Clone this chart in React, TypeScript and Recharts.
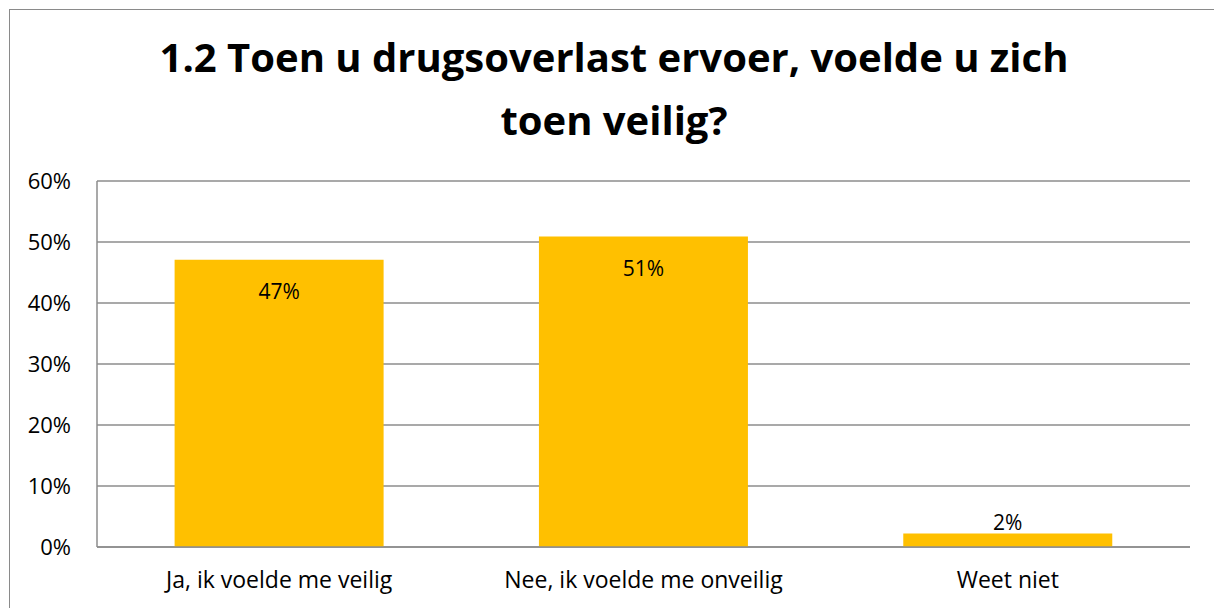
import React from 'react';
import { BarChart, Bar, XAxis, YAxis, CartesianGrid, LabelList } from 'recharts';

const categories = ['Ja, ik voelde me veilig', 'Nee, ik voelde me onveilig', 'Weet niet'];
const values = [47.1, 50.9, 2.2];
const valueLabels = ['47%', '51%', '2%'];
const yTicks = [0, 10, 20, 30, 40, 50, 60];
const titleLines = ['1.2 Toen u drugsoverlast ervoer, voelde u zich', 'toen veilig?'];

const data = categories.map((c, i) => ({ name: c, value: values[i], label: valueLabels[i] }));

const FONT = '"Open Sans", Lato, sans-serif';

const renderLabel = (props: any) => {
  const { x, y, width, height, index } = props;
  const cx = x + width / 2;
  const inside = height > 40;
  const cy = inside ? y + 31 : y - 12;
  return (
    <text x={cx} y={cy} textAnchor="middle" dominantBaseline="central" fontSize={21} fontFamily={FONT} fill="#000">
      {valueLabels[index]}
    </text>
  );
};

export default function App() {
  return (
    <div style={{ position: 'absolute', left: 0, top: 0, width: 1214, height: 608, background: '#fff', overflow: 'hidden' }}>
      <div style={{ position: 'absolute', left: 9, top: 9, width: 1220, height: 620, border: '1.5px solid #8a8a8a', boxSizing: 'border-box' }} />
      {titleLines.map((t, i) => (
        <div key={i} style={{ position: 'absolute', left: 0, width: 1228, top: 31 + i * 63, textAlign: 'center', fontFamily: FONT, fontWeight: 'bold', fontSize: 40, lineHeight: '52px', color: '#000' }}>
          {t}
        </div>
      ))}
      <div style={{ position: 'absolute', left: 0, top: 0 }}>
        <BarChart width={1214} height={608} data={data} margin={{ top: 181, right: 24, bottom: 21, left: 0 }} barCategoryGap="21.3%">
          <CartesianGrid vertical={false} stroke="#8c8c8c" strokeWidth={1.5} />
          <XAxis dataKey="name" tickLine={false} axisLine={{ stroke: '#8c8c8c', strokeWidth: 1.5 }} height={40}
            tick={{ fontSize: 23, fontFamily: FONT, fill: '#000' }} dy={17} interval={0} />
          <YAxis domain={[0, 60]} ticks={yTicks} tickFormatter={(v) => `${v}%`} width={97} tickLine={false}
            axisLine={{ stroke: '#8c8c8c', strokeWidth: 1.5 }} tick={{ fontSize: 22, fontFamily: FONT, fill: '#000' }} dx={-18} />
          <Bar dataKey="value" fill="#FFC000" isAnimationActive={false}>
            <LabelList dataKey="value" content={renderLabel} />
          </Bar>
        </BarChart>
      </div>
    </div>
  );
}
